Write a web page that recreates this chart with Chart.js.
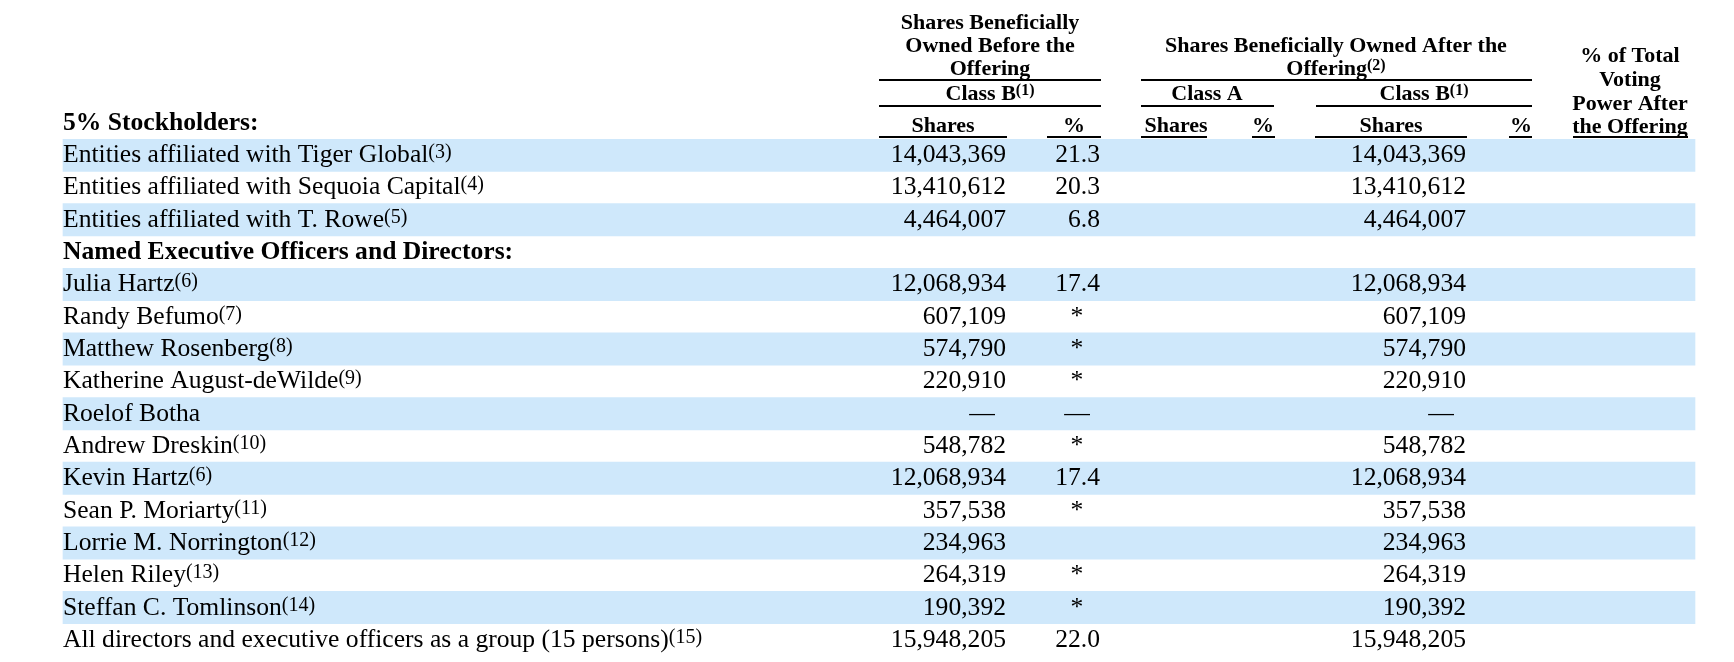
<!DOCTYPE html>
<html>
<head>
<meta charset="utf-8">
<script src="https://cdn.jsdelivr.net/npm/chart.js@4"></script>
<style>
  html, body { margin: 0; padding: 0; background: #fff; }
  #wrap { width: 1734px; height: 662px; }
</style>
</head>
<body>
<div id="wrap"><canvas id="table" width="1734" height="662"></canvas></div>
<script>
// Row data
const rowLabels = [
    'Entities affiliated with Tiger Global',
    'Entities affiliated with Sequoia Capital',
    'Entities affiliated with T. Rowe',
    'Named Executive Officers and Directors:',
    'Julia Hartz',
    'Randy Befumo',
    'Matthew Rosenberg',
    'Katherine August-deWilde',
    'Roelof Botha',
    'Andrew Dreskin',
    'Kevin Hartz',
    'Sean P. Moriarty',
    'Lorrie M. Norrington',
    'Helen Riley',
    'Steffan C. Tomlinson',
    'All directors and executive officers as a group (15 persons)'
];
const footnotes = ['3', '4', '5', '', '6', '7', '8', '9', '', '10', '6', '11', '12', '13', '14', '15'];
const sectionRows = ['Named Executive Officers and Directors:'];

// null = blank cell, 0 = em dash
const beforeShares = [14043369, 13410612, 4464007, null, 12068934, 607109, 574790, 220910, 0, 548782, 12068934, 357538, 234963, 264319, 190392, 15948205];
const beforePct = ['21.3', '20.3', '6.8', '', '17.4', '*', '*', '*', '—', '*', '17.4', '*', '', '*', '*', '22.0'];
const classAShares = rowLabels.map(() => null);
const classAPct = rowLabels.map(() => '');
const afterShares = [14043369, 13410612, 4464007, null, 12068934, 607109, 574790, 220910, 0, 548782, 12068934, 357538, 234963, 264319, 190392, 15948205];
const afterPct = rowLabels.map(() => '');
const votingPct = rowLabels.map(() => '');

// Layout (x in canvas pixels, the x scale runs 0..1734)
const W = 1734;
const TABLE_LEFT = 63;
const TABLE_RIGHT = 1695;
const STRIPE = '#cfe8fb';
const SERIF = '"Liberation Serif", "Times New Roman", serif';
const BODY = '25.6px ' + SERIF;
const BODY_BOLD = 'bold 25.6px ' + SERIF;
const SUP = '20px ' + SERIF;
const HEAD = 'bold 22px ' + SERIF;
const HEAD_SUP = 'bold 16px ' + SERIF;

const columns = [
    { values: beforeShares, right: 1006, mid: 982, kind: 'shares' },
    { values: beforePct, right: 1100, mid: 1077, kind: 'pct' },
    { values: classAShares, right: 1207, mid: 1180, kind: 'shares' },
    { values: classAPct, right: 1275, mid: 1264, kind: 'pct' },
    { values: afterShares, right: 1466, mid: 1441, kind: 'shares' },
    { values: afterPct, right: 1532, mid: 1520, kind: 'pct' },
    { values: votingPct, right: 1688, mid: 1630, kind: 'pct' }
];

function cellText(v, kind) {
    if (kind === 'shares') {
        if (v === null || v === undefined) return '';
        if (v === 0) return '—';
        return v.toLocaleString('en-US');
    }
    return v || '';
}

// draws text with an optional superscript, aligned left / center
function drawSup(ctx, str, sup, x, y, align, font, supFont, rise) {
    ctx.font = font;
    const w1 = ctx.measureText(str).width;
    ctx.font = supFont;
    const w2 = sup ? ctx.measureText('(' + sup + ')').width : 0;
    let x0 = x;
    if (align === 'center') x0 = x - (w1 + w2) / 2;
    ctx.textAlign = 'left';
    ctx.font = font;
    ctx.fillText(str, x0, y);
    if (sup) {
        ctx.font = supFont;
        ctx.fillText('(' + sup + ')', x0 + w1, y - rise);
    }
}

function rule(ctx, x1, x2, y) {
    ctx.fillRect(x1, y - 1, x2 - x1, 2);
}

const tablePlugin = {
    id: 'tableText',
    afterDatasetsDraw(chart) {
        const ctx = chart.ctx;
        const xs = chart.scales.x;
        const ys = chart.scales.y;
        const px = v => xs.getPixelForValue(v);
        ctx.save();
        ctx.fillStyle = '#000';
        ctx.textBaseline = 'alphabetic';

        // column headers
        const head = (s, x, y, sup) => drawSup(ctx, s, sup, px(x), y, 'center', HEAD, HEAD_SUP, 5);
        head('Shares Beneficially', 990, 29);
        head('Owned Before the', 990, 52);
        head('Offering', 990, 75);
        rule(ctx, px(879), px(1101), 80);
        head('Class B', 990, 100, '1');
        rule(ctx, px(879), px(1101), 106);
        head('Shares', 943, 132);
        rule(ctx, px(879), px(1007), 137);
        head('%', 1074, 132);
        rule(ctx, px(1047), px(1101), 137);

        head('Shares Beneficially Owned After the', 1336, 52);
        head('Offering', 1336, 75, '2');
        rule(ctx, px(1141), px(1532), 80);
        head('Class A', 1207, 100);
        rule(ctx, px(1141), px(1274), 106);
        head('Class B', 1424, 100, '1');
        rule(ctx, px(1316), px(1532), 106);
        head('Shares', 1176, 132);
        rule(ctx, px(1141), px(1207), 137);
        head('%', 1263, 132);
        rule(ctx, px(1252), px(1275), 137);
        head('Shares', 1391, 132);
        rule(ctx, px(1315), px(1467), 137);
        head('%', 1521, 132);
        rule(ctx, px(1509), px(1532), 137);

        head('% of Total', 1630, 62);
        head('Voting', 1630, 86);
        head('Power After', 1630, 110);
        head('the Offering', 1630, 133);
        rule(ctx, px(1573), px(1688), 137);

        ctx.font = BODY_BOLD;
        ctx.textAlign = 'left';
        ctx.fillText('5% Stockholders:', px(TABLE_LEFT), 130);

        // body rows
        rowLabels.forEach((label, i) => {
            const y = ys.getPixelForValue(i) + 7;
            const bold = sectionRows.includes(label);
            drawSup(ctx, label, footnotes[i], px(TABLE_LEFT), y, 'left', bold ? BODY_BOLD : BODY, SUP, 4);
            ctx.font = BODY;
            columns.forEach(col => {
                const t = cellText(col.values[i], col.kind);
                if (!t) return;
                if (t === '—' || t === '*') {
                    ctx.textAlign = 'center';
                    ctx.fillText(t, px(col.mid), y);
                } else {
                    ctx.textAlign = 'right';
                    ctx.fillText(t, px(col.right), y);
                }
            });
        });
        ctx.restore();
    }
};

const stripes = rowLabels.map((_, i) => (i % 2 === 0 ? [TABLE_LEFT, TABLE_RIGHT] : null));

new Chart(document.getElementById('table'), {
    type: 'bar',
    data: {
        labels: rowLabels,
        datasets: [{
            data: stripes,
            backgroundColor: STRIPE,
            borderWidth: 0,
            barPercentage: 1,
            categoryPercentage: 1
        }]
    },
    options: {
        indexAxis: 'y',
        responsive: false,
        animation: false,
        devicePixelRatio: 1,
        layout: { padding: { top: 139, bottom: 6, left: 0, right: 0 } },
        scales: {
            x: { type: 'linear', min: 0, max: W, display: false },
            y: { type: 'category', display: false }
        },
        plugins: {
            legend: { display: false },
            tooltip: { enabled: false }
        }
    },
    plugins: [tablePlugin]
});
</script>
</body>
</html>
